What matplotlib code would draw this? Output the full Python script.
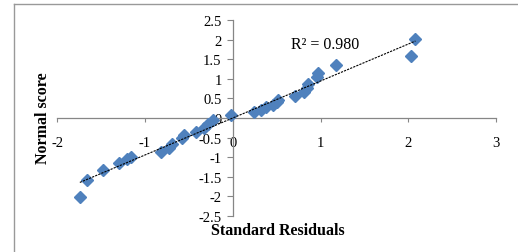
import matplotlib
matplotlib.use("Agg")
import matplotlib.pyplot as plt
from matplotlib.lines import Line2D
import numpy as np

# standard residuals vs normal scores
std_resid = [-1.74, -1.66, -1.48, -1.29, -1.20, -1.16, -0.82, -0.72, -0.69, -0.58,
             -0.55, -0.42, -0.33, -0.28, -0.23, -0.02, 0.24, 0.32, 0.38, 0.46,
             0.50, 0.52, 0.71, 0.81, 0.85, 0.86, 0.96, 0.97, 1.17, 2.03, 2.08]
normal_score = [-2.02, -1.58, -1.33, -1.15, -1.05, -0.99, -0.87, -0.77, -0.66, -0.51,
                -0.43, -0.36, -0.26, -0.16, -0.06, 0.08, 0.15, 0.20, 0.28, 0.33,
                0.40, 0.45, 0.56, 0.66, 0.76, 0.87, 1.04, 1.16, 1.34, 1.59, 2.02]
r2_label = "R² = 0.980"
x_ticks = [-2, -1, 0, 1, 2, 3]
y_ticks = [-2.5, -2, -1.5, -1, -0.5, 0, 0.5, 1, 1.5, 2, 2.5]

plt.rcParams['font.family'] = ['Liberation Serif', 'DejaVu Serif']
plt.rcParams['axes.unicode_minus'] = False

W, H = 518, 253
fig = plt.figure(figsize=(W / 100, H / 100), dpi=100)
ax = fig.add_axes([57 / W, 1 - 217 / H, 439.3 / W, 196 / H])

grey = '#868686'
ax.plot(std_resid, normal_score, linestyle='none', marker='D', markersize=5.8,
        color='#4F81BD', zorder=3)

# linear trendline
k, b = np.polyfit(std_resid, normal_score, 1)
xs = np.array([min(std_resid), max(std_resid)])
ax.plot(xs, k * xs + b, color='black', linewidth=0.8, dashes=(2, 1), zorder=4)

ax.text(0.66, 1.9, r2_label, fontsize=11.5, ha='left', va='center')

ax.set_xlim(-2, 3)
ax.set_ylim(-2.5, 2.5)
ax.set_xticks(x_ticks)
ax.set_yticks(y_ticks)
ax.set_xticklabels([str(t) for t in x_ticks])
ax.set_yticklabels([f"{t:g}" for t in y_ticks])

for s in ['top', 'right']:
    ax.spines[s].set_visible(False)
ax.spines['left'].set_position(('data', 0))
ax.spines['bottom'].set_position(('data', 0))
for s in ['left', 'bottom']:
    ax.spines[s].set_color(grey)
    ax.spines[s].set_linewidth(0.9)
ax.tick_params(axis='x', direction='out', length=3, color=grey, pad=10, labelsize=10.5)
ax.tick_params(axis='y', direction='out', length=4, color=grey, pad=4, labelsize=10.5)

fig.text(278 / W, 1 - 231 / H, 'Standard Residuals', fontsize=11.5, fontweight='bold',
         ha='center', va='center')
fig.text(43 / W, 1 - 118 / H, 'Normal score', fontsize=11.5, fontweight='bold',
         ha='center', va='center', rotation=90)

# outer chart border (left and top visible)
fig.add_artist(Line2D([14 / W, 14 / W], [0, 1 - 5 / H], color='#999999', linewidth=1,
                      transform=fig.transFigure))
fig.add_artist(Line2D([14 / W, 1], [1 - 5 / H, 1 - 5 / H], color='#999999', linewidth=1,
                      transform=fig.transFigure))

fig.savefig('out.png', dpi=100)
